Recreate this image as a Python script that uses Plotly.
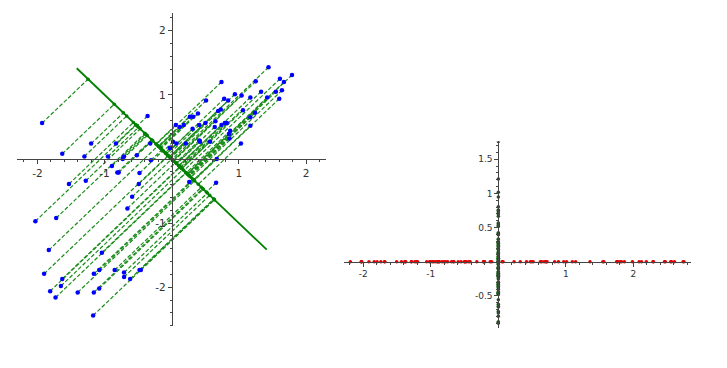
import numpy as np
import plotly.graph_objects as go

# Blue data points
pts_x = [1.44, 1.79, 1.61, 1.67, 0.74, 1.25, 1.64, 1.55, 1.33, 1.60,
         0.94, 1.04, 1.17, 1.42, 0.78, 0.84, 0.51, 0.73, 0.69, 1.06,
         1.24, 0.39, 0.27, 0.32, 0.65, 1.17, 0.50, 0.41, 0.79, 0.06,
         0.18, 0.12, 0.31, 0.64, 0.74, 0.82, 1.17, 0.87, 0.85, 1.03,
         0.41, 0.42, 0.02, 0.07, 0.21, -0.01, 0.57, 0.86, 0.67, 0.26,
         0.66, -1.93, -0.36, -1.20, -0.83, -1.63, -1.30, -0.95, -0.71, -0.52,
         -0.31, -0.73, -0.89, -0.81, -0.79, -0.48, -1.53, -1.28, -0.49, -0.59,
         -0.66, -0.03, -0.32, -2.03, -1.72, -1.83, -1.04, -1.90, -1.63, -1.65,
         -1.81, -1.73, -1.40, -1.16, -1.08, -1.16, -1.08, -0.85, -0.71, -0.71,
         -0.62, -0.48, -0.46, -1.17]
pts_y = [1.43, 1.31, 1.25, 1.20, 1.20, 1.21, 1.07, 1.05, 1.05, 0.94,
         1.01, 0.99, 0.96, 0.96, 0.94, 0.91, 0.91, 0.77, 0.75, 0.76,
         0.72, 0.71, 0.66, 0.66, 0.59, 0.65, 0.56, 0.53, 0.56, 0.53,
         0.53, 0.50, 0.47, 0.50, 0.53, 0.56, 0.52, 0.44, 0.39, 0.24,
         0.29, 0.27, 0.27, 0.24, 0.24, 0.18, 0.27, 0.32, 0.00, -0.36,
         -0.37, 0.56, 0.67, 0.24, 0.24, 0.08, 0.04, 0.04, 0.04, 0.06,
         -0.02, 0.00, -0.11, -0.21, -0.21, -0.22, -0.39, -0.34, -0.39, -0.59,
         -0.77, 0.17, 0.24, -0.97, -0.92, -1.42, -1.46, -1.79, -1.87, -1.98,
         -2.06, -2.16, -2.08, -1.79, -1.73, -2.08, -2.02, -1.73, -1.77, -1.84,
         -1.87, -1.73, -1.73, -2.44]

# Projection axis direction (line y = -x), drawn for t in [-2, 2]
axis_dir = [-1.0, 1.0]
axis_t = [-2.0, 2.0]

left_ticks = [-2, -1, 1, 2]
right_xticks = [-2, -1, 1, 2]
right_yticks = [-0.5, 0.5, 1, 1.5]

X = np.array(pts_x)
Y = np.array(pts_y)
u = np.array(axis_dir) / np.linalg.norm(axis_dir)
v = np.array([-u[1], u[0]])          # perpendicular direction
c2 = X * u[0] + Y * u[1]             # coordinate along projection axis
c1 = X * v[0] + Y * v[1]             # coordinate along the other axis
proj_x = c2 * u[0]
proj_y = c2 * u[1]

GREEN = '#008000'
dash_x, dash_y = [], []
for a, b, c, d in zip(X, Y, proj_x, proj_y):
    dash_x += [a, c, None]
    dash_y += [b, d, None]

fig = go.Figure()
fig.add_trace(go.Scatter(x=dash_x, y=dash_y, mode='lines',
                         line=dict(color='#1a8c1a', width=1.2, dash='4px,2px'),
                         xaxis='x', yaxis='y', hoverinfo='skip'))
fig.add_trace(go.Scatter(x=[t * u[0] for t in axis_t], y=[t * u[1] for t in axis_t],
                         mode='lines', line=dict(color=GREEN, width=1.8),
                         xaxis='x', yaxis='y'))
fig.add_trace(go.Scatter(x=X, y=Y, mode='markers',
                         marker=dict(color='#0000ff', size=4.5),
                         xaxis='x', yaxis='y'))
fig.add_trace(go.Scatter(x=proj_x, y=proj_y, mode='markers',
                         marker=dict(color=GREEN, size=3.5),
                         xaxis='x', yaxis='y'))

# Right: transformed coordinates
fig.add_trace(go.Scatter(x=c1, y=np.zeros_like(c1), mode='markers',
                         marker=dict(color='#e00000', size=3.5),
                         xaxis='x2', yaxis='y2'))
fig.add_trace(go.Scatter(x=np.zeros_like(c2), y=c2, mode='markers',
                         marker=dict(color='#006400', size=3.5),
                         xaxis='x2', yaxis='y2'))

AX = '#444444'


def axis_common(tickvals, minor_dtick, fsize):
    return dict(showgrid=False, zeroline=False, showline=True, linecolor=AX,
                linewidth=1, ticks='outside', ticklen=4, tickwidth=1,
                tickcolor=AX, tickvals=tickvals,
                ticktext=[('%g' % t) for t in tickvals],
                tickfont=dict(family='DejaVu Sans', size=fsize, color='#333333'),
                minor=dict(ticks='outside', ticklen=2, tickcolor=AX,
                           dtick=minor_dtick, tick0=0, showgrid=False),
                anchor='free', fixedrange=True)


fig.update_layout(
    width=727, height=368, autosize=False,
    margin=dict(l=0, r=0, t=0, b=0),
    paper_bgcolor='white', plot_bgcolor='rgba(0,0,0,0)',
    showlegend=False,
    xaxis=dict(**axis_common(left_ticks, 0.2, 10.5), range=[-2.3, 2.3],
               domain=[0.0237, 0.4488], position=0.5679),
    yaxis=dict(**axis_common(left_ticks, 0.2, 10.5), range=[-2.6, 2.28],
               domain=[0.1147, 0.9654], position=0.2362),
    xaxis2=dict(**axis_common(right_xticks, 0.2, 9), range=[-2.29, 2.85],
                domain=[0.4728, 0.9501], position=0.2889),
    yaxis2=dict(**axis_common(right_yticks, 0.1, 9), range=[-0.975, 1.76],
                domain=[0.1079, 0.6155], position=0.6854),
)

fig.write_html('out.html')
